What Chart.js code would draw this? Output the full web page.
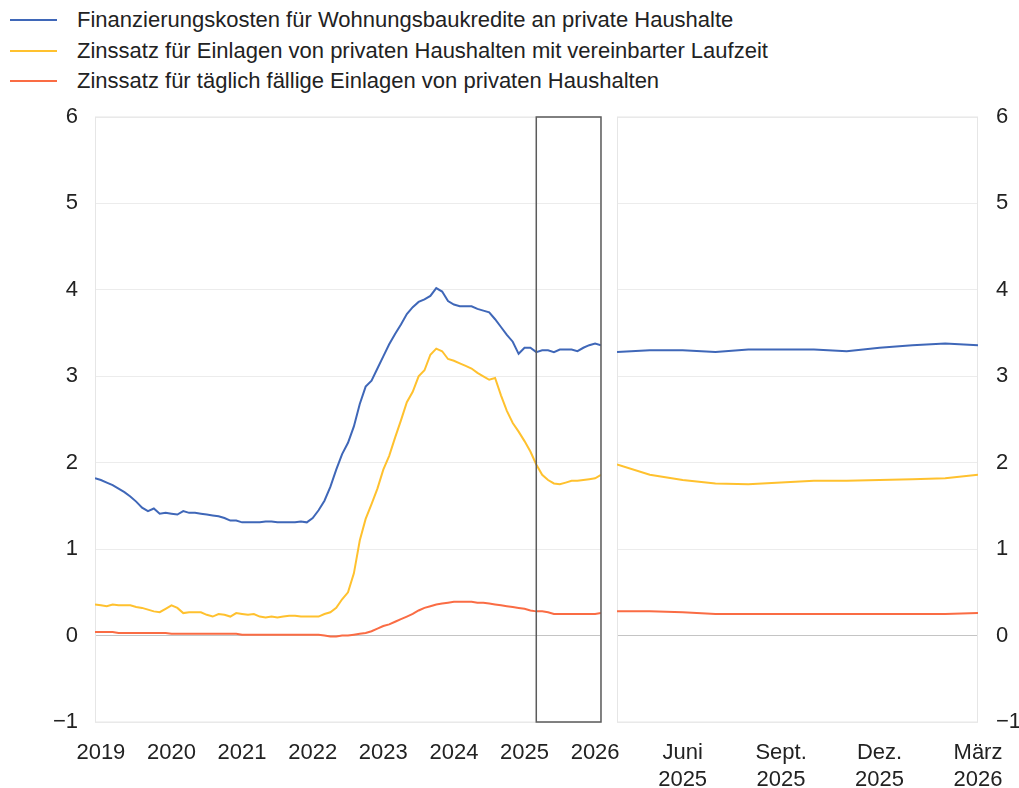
<!DOCTYPE html>
<html>
<head>
<meta charset="utf-8">
<title>Zinssätze private Haushalte</title>
<script src="https://cdn.jsdelivr.net/npm/chart.js@4.4.1/dist/chart.umd.min.js"></script>
<style>
  body { margin: 0; background: #fff; overflow: hidden; }
  #wrap { position: relative; width: 1019px; height: 788px; overflow: hidden; font-family: Arial, "Liberation Sans", sans-serif; }
  .row { position: absolute; left: 0; height: 31px; line-height: 31px; font-size: 22px; color: #222; white-space: nowrap; }
  .row .line { position: absolute; left: 10px; top: 15px; width: 47px; height: 2px; }
  .row .txt { position: absolute; left: 77px; top: 0; }
  #left { position: absolute; left: 0; top: 100px; }
  #right { position: absolute; left: 605px; top: 100px; }
</style>
</head>
<body>
<div id="wrap">
  <div id="legend"></div>
  <canvas id="left" width="640" height="700" style="width:640px;height:700px"></canvas>
  <canvas id="right" width="414" height="700" style="width:414px;height:700px"></canvas>
</div>
<script>
// monthly values, Jan 2019 - Mar 2026
const finanzierung = [
  1.82,1.80,1.77,1.74,1.70,1.66,1.61,1.55,1.48,1.44,1.47,1.41,
  1.42,1.41,1.40,1.44,1.42,1.42,1.41,1.40,1.39,1.38,1.36,1.33,
  1.33,1.31,1.31,1.31,1.31,1.32,1.32,1.31,1.31,1.31,1.31,1.32,
  1.31,1.36,1.45,1.56,1.72,1.92,2.10,2.23,2.42,2.68,2.88,2.95,
  3.09,3.23,3.37,3.49,3.60,3.72,3.80,3.86,3.89,3.93,4.02,3.98,
  3.87,3.83,3.81,3.81,3.81,3.78,3.76,3.74,3.66,3.57,3.48,3.40,
  3.26,3.33,3.33,3.28,3.30,3.30,3.28,3.31,3.31,3.31,3.29,3.33,
  3.36,3.38,3.36
];
const einlagenLaufzeit = [
  0.36,0.35,0.34,0.36,0.35,0.35,0.35,0.33,0.32,0.30,0.28,0.27,
  0.31,0.35,0.32,0.26,0.27,0.27,0.27,0.24,0.22,0.25,0.24,0.22,
  0.26,0.25,0.24,0.25,0.22,0.21,0.22,0.21,0.22,0.23,0.23,0.22,
  0.22,0.22,0.22,0.25,0.27,0.32,0.42,0.50,0.72,1.10,1.35,1.52,
  1.70,1.92,2.08,2.29,2.49,2.70,2.82,3.00,3.07,3.25,3.32,3.29,
  3.20,3.18,3.15,3.12,3.09,3.04,3.00,2.96,2.98,2.78,2.60,2.46,
  2.36,2.25,2.13,1.98,1.86,1.80,1.76,1.75,1.77,1.79,1.79,1.80,
  1.81,1.82,1.86
];
const einlagenTaeglich = [
  0.04,0.04,0.04,0.04,0.03,0.03,0.03,0.03,0.03,0.03,0.03,0.03,
  0.03,0.02,0.02,0.02,0.02,0.02,0.02,0.02,0.02,0.02,0.02,0.02,
  0.02,0.01,0.01,0.01,0.01,0.01,0.01,0.01,0.01,0.01,0.01,0.01,
  0.01,0.01,0.01,0.00,-0.01,-0.01,0.00,0.00,0.01,0.02,0.03,0.05,
  0.08,0.11,0.13,0.16,0.19,0.22,0.25,0.29,0.32,0.34,0.36,0.37,
  0.38,0.39,0.39,0.39,0.39,0.38,0.38,0.37,0.36,0.35,0.34,0.33,
  0.32,0.31,0.29,0.28,0.28,0.27,0.25,0.25,0.25,0.25,0.25,0.25,
  0.25,0.25,0.26
];

const seriesNames = [
  'Finanzierungskosten für Wohnungsbaukredite an private Haushalte',
  'Zinssatz für Einlagen von privaten Haushalten mit vereinbarter Laufzeit',
  'Zinssatz für täglich fällige Einlagen von privaten Haushalten'
];
const seriesColors = ['#3f67b8', '#ffc12e', '#fa6c44'];

const yearLabels = ['2019','2020','2021','2022','2023','2024','2025','2026'];
const yearTickPos = [1, 13, 25, 37, 49, 61, 73, 85];
const zoomMonths = 12;  // Apr 2025 - Mar 2026
const zoomLabels = [['Juni','2025'], ['Sept.','2025'], ['Dez.','2025'], ['März','2026']];
const zoomTickPos = [2, 5, 8, 11];

const allSeries = [finanzierung, einlagenLaufzeit, einlagenTaeglich];
const lastIndex = finanzierung.length - 1;
const zoomStart = finanzierung.length - zoomMonths;

Chart.defaults.font.family = 'Arial, "Liberation Sans", sans-serif';
Chart.defaults.font.size = 22;
Chart.defaults.color = '#222';

// legend
const legend = document.getElementById('legend');
seriesNames.forEach((name, i) => {
  const row = document.createElement('div');
  row.className = 'row';
  row.style.top = (4 + i * 30.5) + 'px';
  row.innerHTML = '<span class="line" style="background:' + seriesColors[i] + '"></span><span class="txt">' + name + '</span>';
  legend.appendChild(row);
});

function makeDatasets(from){
  return allSeries.map((s, i) => ({
    label: seriesNames[i],
    data: s.slice(from).map((v, j) => ({x: j, y: v})),
    borderColor: seriesColors[i],
    borderWidth: 2,
    pointRadius: 0,
    tension: 0
  }));
}

function minusLabel(v){
  return v < 0 ? '\u2212' + Math.abs(v) : '' + v;
}

const frame = {
  id: 'frame',
  beforeDatasetsDraw(chart){
    const {ctx, chartArea: a} = chart;
    ctx.save();
    ctx.strokeStyle = '#e6e6e6';
    ctx.lineWidth = 1;
    ctx.strokeRect(a.left + 0.5, a.top, a.right - a.left - 1, a.bottom - a.top);
    ctx.restore();
  }
};

const zoomBox = {
  id: 'zoomBox',
  afterDatasetsDraw(chart){
    const {ctx, chartArea: a, scales: {x}} = chart;
    const x0 = x.getPixelForValue(zoomStart);
    const x1 = x.getPixelForValue(lastIndex);
    ctx.save();
    ctx.strokeStyle = '#5c5c5c';
    ctx.lineWidth = 1.5;
    ctx.strokeRect(x0, a.top, x1 - x0, a.bottom - a.top);
    ctx.restore();
  }
};

const yGrid = {
  color: c => c.tick.value === 0 ? '#c4c4c4' : '#ececec',
  drawTicks: false
};

// fixed axis sizes so both panels share the same plot height
function fixY(width){
  return axis => { axis.width = width; axis.paddingTop = 0; axis.paddingBottom = 0; };
}

new Chart(document.getElementById('left'), {
  type: 'line',
  data: { datasets: makeDatasets(0) },
  options: {
    responsive: false,
    animation: false,
    layout: { padding: { top: 17, right: 39, left: 0, bottom: 0 } },
    plugins: { legend: { display: false }, tooltip: { enabled: false } },
    scales: {
      x: {
        type: 'linear',
        min: 0,
        max: lastIndex,
        grid: { display: false },
        border: { display: false },
        afterBuildTicks: axis => { axis.ticks = yearTickPos.map(v => ({value: v})); },
        afterFit: axis => { axis.height = 78; },
        ticks: {
          autoSkip: false,
          maxRotation: 0,
          padding: 9,
          font: { size: 22, lineHeight: 1.25 },
          callback: (v, i) => yearLabels[i]
        }
      },
      y: {
        min: -1,
        max: 6,
        grid: yGrid,
        border: { display: false },
        afterFit: fixY(95),
        ticks: { stepSize: 1, padding: 17, callback: minusLabel }
      }
    }
  },
  plugins: [frame, zoomBox]
});

new Chart(document.getElementById('right'), {
  type: 'line',
  data: { datasets: makeDatasets(zoomStart) },
  options: {
    responsive: false,
    animation: false,
    layout: { padding: { top: 17, right: 0, left: 12, bottom: 0 } },
    plugins: { legend: { display: false }, tooltip: { enabled: false } },
    scales: {
      x: {
        type: 'linear',
        min: 0,
        max: zoomMonths - 1,
        grid: { display: false },
        border: { display: false },
        afterBuildTicks: axis => { axis.ticks = zoomTickPos.map(v => ({value: v})); },
        afterFit: axis => { axis.height = 78; },
        ticks: {
          autoSkip: false,
          maxRotation: 0,
          padding: 9,
          font: { size: 22, lineHeight: 1.25 },
          callback: (v, i) => zoomLabels[i]
        }
      },
      y: {
        position: 'right',
        min: -1,
        max: 6,
        grid: yGrid,
        border: { display: false },
        afterFit: fixY(41),
        ticks: { stepSize: 1, padding: 18, callback: minusLabel }
      }
    }
  },
  plugins: [frame]
});
</script>
</body>
</html>
